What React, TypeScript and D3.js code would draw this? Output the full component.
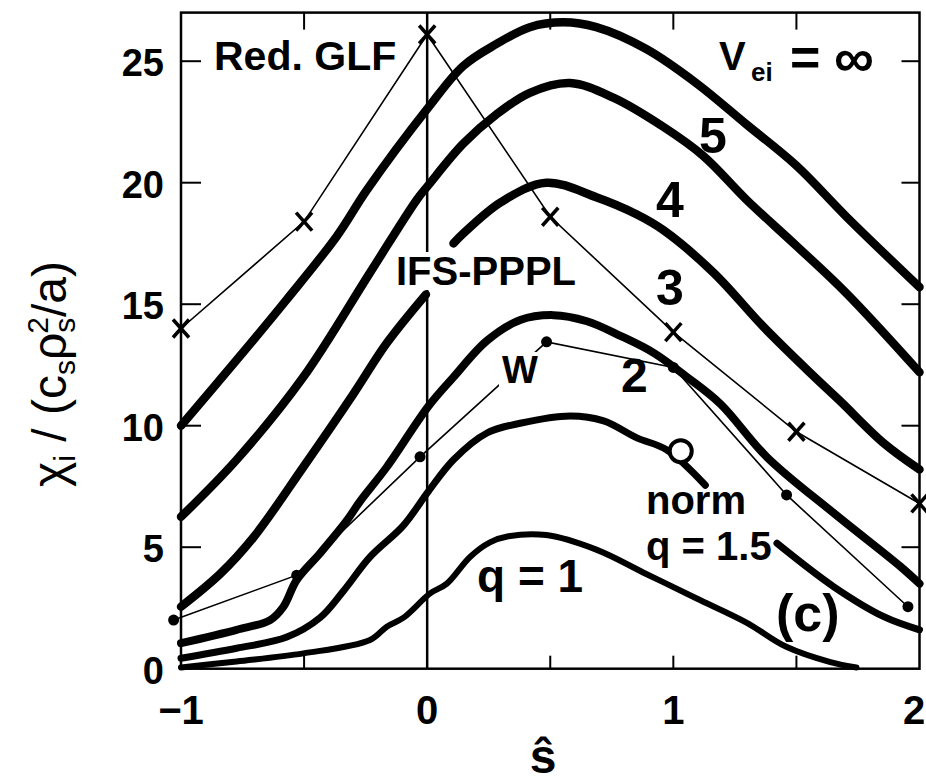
import React from "react";
import * as d3 from "d3";

// ---- data (s-hat, chi_i) ----
const q5Curve: [number, number][] = [[-1, 10.0], [-0.774, 12.7], [-0.57, 15.2], [-0.367, 17.8], [-0.245, 19.7], [0.005, 23.1], [0.146, 24.8], [0.28, 25.7], [0.417, 26.4], [0.553, 26.6], [0.687, 26.4], [0.89, 25.5], [1.093, 24.1], [1.297, 22.4], [1.5, 20.7], [1.703, 18.6], [2, 15.7]];
const q4Curve: [number, number][] = [[-1, 6.25], [-0.774, 8.6], [-0.503, 12.0], [-0.232, 16.3], [-0.042, 19.3], [0.005, 19.9], [0.146, 21.6], [0.28, 22.8], [0.417, 23.7], [0.58, 24.1], [0.756, 23.5], [0.959, 22.3], [1.122, 21.1], [1.297, 19.3], [1.5, 17.4], [1.703, 15.45], [2, 12.2]];
const q3CurveLeft: [number, number][] = [[-1, 2.55], [-0.841, 3.9], [-0.706, 5.4], [-0.503, 8.3], [-0.3, 11.3], [-0.164, 13.4], [-0.005, 15.4]];
const q3CurveRight: [number, number][] = [[0.107, 17.5], [0.146, 17.9], [0.3, 19.2], [0.484, 20.0], [0.687, 19.4], [0.85, 18.7], [0.959, 18.05], [1.163, 16.3], [1.366, 14.07], [1.569, 12.05], [1.679, 11.0], [1.855, 9.28], [2, 8.2]];
const q2Curve: [number, number][] = [[-1, 1.05], [-0.774, 1.6], [-0.638, 2.0], [-0.584, 2.55], [-0.53, 3.65], [-0.435, 4.75], [-0.326, 6.1], [-0.272, 6.9], [-0.164, 8.3], [0.005, 10.8], [0.107, 12.0], [0.243, 13.5], [0.378, 14.35], [0.513, 14.55], [0.649, 14.3], [0.785, 13.7], [0.92, 13.0], [1.056, 12.0], [1.191, 10.9], [1.381, 8.7], [1.652, 6.4], [1.923, 4.2], [2, 3.5]];
const normCurveLeft: [number, number][] = [[-1, 0.43], [-0.774, 0.84], [-0.57, 1.3], [-0.435, 2.1], [-0.34, 3.2], [-0.232, 4.6], [-0.096, 5.9], [0.005, 7.3], [0.107, 8.6], [0.243, 9.7], [0.378, 10.1], [0.581, 10.4], [0.717, 10.2], [0.852, 9.5], [0.974, 9.0], [1.13, 7.55]];
const normCurveRight: [number, number][] = [[1.421, 5.16], [1.652, 3.37], [1.855, 2.14], [2, 1.6]];
const q1Curve: [number, number][] = [[-1, 0.05], [-0.774, 0.3], [-0.503, 0.63], [-0.232, 1.18], [-0.164, 1.73], [-0.096, 2.1], [0.012, 3.1], [0.08, 3.5], [0.174, 4.6], [0.255, 5.2], [0.33, 5.45], [0.484, 5.5], [0.687, 4.9], [0.89, 3.9], [1.093, 2.9], [1.297, 1.9], [1.459, 0.9], [1.638, 0.27], [1.744, 0.05]];

const glfS = [-1, -0.5, 0, 0.5, 1, 1.5, 2];
const glfChi = [14.0, 18.4, 26.1, 18.6, 13.85, 9.75, 6.8];
const wS = [-1.03, -0.53, -0.029, 0.485, 1.0, 1.46, 1.953];
const wChi = [2.0, 3.85, 8.72, 13.45, 12.4, 7.15, 2.55];
const normMarker: [number, number] = [1.03, 8.95];

const yTicks = [0, 5, 10, 15, 20, 25];
const yTickMarks = [5, 10, 15, 20, 25];
const xTicks = [-1, 0, 1, 2];
const xTickMarks = [-0.5, 0.5, 1, 1.5];

const FONT = "'Liberation Sans', Arial, Helvetica, sans-serif";

export default function App() {
  const xs = d3.scaleLinear().domain([-1, 2]).range([181, 919.5]);
  const ys = d3.scaleLinear().domain([0, 27]).range([668.7, 12.6]);
  const line = d3
    .line<[number, number]>()
    .x((d) => xs(d[0]))
    .y((d) => ys(d[1]))
    .curve(d3.curveCatmullRom.alpha(0.5));
  const straight = d3
    .line<[number, number]>()
    .x((d) => xs(d[0]))
    .y((d) => ys(d[1]));

  const glfPts: [number, number][] = glfS.map((s, i) => [s, glfChi[i]]);
  const wPts: [number, number][] = wS.map((s, i) => [s, wChi[i]]);

  const x0 = xs(-1), x1 = xs(2), y0 = ys(0), y1 = ys(27);

  const thick = [
    { d: q5Curve, w: 8.5 },
    { d: q4Curve, w: 8.5 },
    { d: q3CurveLeft, w: 8.5 },
    { d: q3CurveRight, w: 8.5 },
    { d: q2Curve, w: 8 },
    { d: normCurveLeft, w: 7 },
    { d: normCurveRight, w: 7 },
    { d: q1Curve, w: 6 },
  ];

  const txt = (x: number, y: number, s: string, size: number, extra: any = {}) => (
    <text x={x} y={y} fontSize={size} fontWeight="bold" fontFamily={FONT} fill="#000" {...extra}>
      {s}
    </text>
  );

  return (
    <svg width={926} height={784} style={{ position: "absolute", left: 0, top: 0, background: "#fff" }}>
      <rect x={0} y={0} width={926} height={784} fill="#fff" />
      {/* frame */}
      <rect x={x0} y={y1} width={x1 - x0} height={y0 - y1} fill="none" stroke="#000" strokeWidth={2.5} />
      {/* y ticks */}
      {yTickMarks.map((v) => (
        <g key={"yt" + v}>
          <line x1={x0} x2={x0 + 20} y1={ys(v)} y2={ys(v)} stroke="#000" strokeWidth={2} />
          <line x1={x1} x2={x1 - 18} y1={ys(v)} y2={ys(v)} stroke="#000" strokeWidth={2} />
        </g>
      ))}
      {xTickMarks.map((v) => (
        <g key={"xt" + v}>
          <line x1={xs(v)} x2={xs(v)} y1={y0} y2={y0 - 13} stroke="#000" strokeWidth={2} />
          <line x1={xs(v)} x2={xs(v)} y1={y1} y2={y1 + 17} stroke="#000" strokeWidth={2} />
        </g>
      ))}
      {/* vertical line at s = 0 */}
      <line x1={xs(0)} x2={xs(0)} y1={y1} y2={y0} stroke="#000" strokeWidth={2.5} />

      {/* tick labels */}
      {yTicks.map((v) => (
        <text key={"yl" + v} x={164} y={ys(v) + 15} textAnchor="end" fontSize={38} fontWeight="bold" fontFamily={FONT}>
          {v}
        </text>
      ))}
      {xTicks.map((v) => (
        <text key={"xl" + v} x={Math.min(xs(v), 914)} y={724} textAnchor="middle" fontSize={40} fontWeight="bold" fontFamily={FONT}>
          {v < 0 ? "\u2212" + Math.abs(v) : v}
        </text>
      ))}

      {/* Red. GLF thin line with crosses */}
      <path d={straight(glfPts) || ""} fill="none" stroke="#000" strokeWidth={1.6} />
      {glfPts.map((p, i) => (
        <g key={"c" + i} transform={`translate(${xs(p[0])},${ys(p[1])})`}>
          <line x1={-8} y1={-9} x2={8} y2={9} stroke="#000" strokeWidth={3.5} />
          <line x1={-8} y1={9} x2={8} y2={-9} stroke="#000" strokeWidth={3.5} />
        </g>
      ))}
      {/* W thin line with dots */}
      <path d={straight(wPts) || ""} fill="none" stroke="#000" strokeWidth={1.6} />
      {wPts.map((p, i) => (
        <circle key={"w" + i} cx={xs(p[0])} cy={ys(p[1])} r={5.5} fill="#000" />
      ))}

      {/* white backing for labels that interrupt lines */}
      <rect x={499} y={352} width={42} height={34} fill="#fff" />
      <rect x={394} y={252} width={190} height={38} fill="#fff" />

      {/* thick IFS-PPPL curves */}
      {thick.map((c, i) => (
        <path key={"t" + i} d={line(c.d) || ""} fill="none" stroke="#000" strokeWidth={c.w} strokeLinecap="round" strokeLinejoin="round" />
      ))}
      <circle cx={xs(normMarker[0])} cy={ys(normMarker[1])} r={11} fill="#fff" stroke="#000" strokeWidth={4} />

      {/* annotations */}
      {txt(214, 70, "Red. GLF", 41)}
      {txt(396, 285, "IFS-PPPL", 40)}
      {txt(719, 70, "V", 40)}
      {txt(751, 81, "ei", 26)}
      {txt(790, 75, "=", 52)}
      {txt(834, 77, "\u221E", 56)}
      {txt(699, 153, "5", 50)}
      {txt(656, 217, "4", 50)}
      {txt(656, 305, "3", 50)}
      {txt(621, 392, "2", 48)}
      {txt(502, 383, "W", 38)}
      {txt(646, 514, "norm", 40)}
      {txt(646, 560, "q = 1.5", 40)}
      {txt(477, 592, "q = 1", 46)}
      {txt(776, 631, "(c)", 52)}

      {/* axis titles */}
      <text x={543} y={773} textAnchor="middle" fontSize={48} fontWeight="bold" fontFamily={FONT}>ŝ</text>
      <text transform="translate(66,374) rotate(-90)" textAnchor="middle" fontSize={48} fontFamily={FONT}>
        χ<tspan dy={9} fontSize={30}>i</tspan>
        <tspan dy={-9}> / (c</tspan>
        <tspan dy={9} fontSize={30}>s</tspan>
        <tspan dy={-9}>ρ</tspan>
        <tspan dy={9} fontSize={30}>s</tspan>
        <tspan dx={-16} dy={-27} fontSize={30}>2</tspan>
        <tspan dy={18}>/a)</tspan>
      </text>
    </svg>
  );
}
